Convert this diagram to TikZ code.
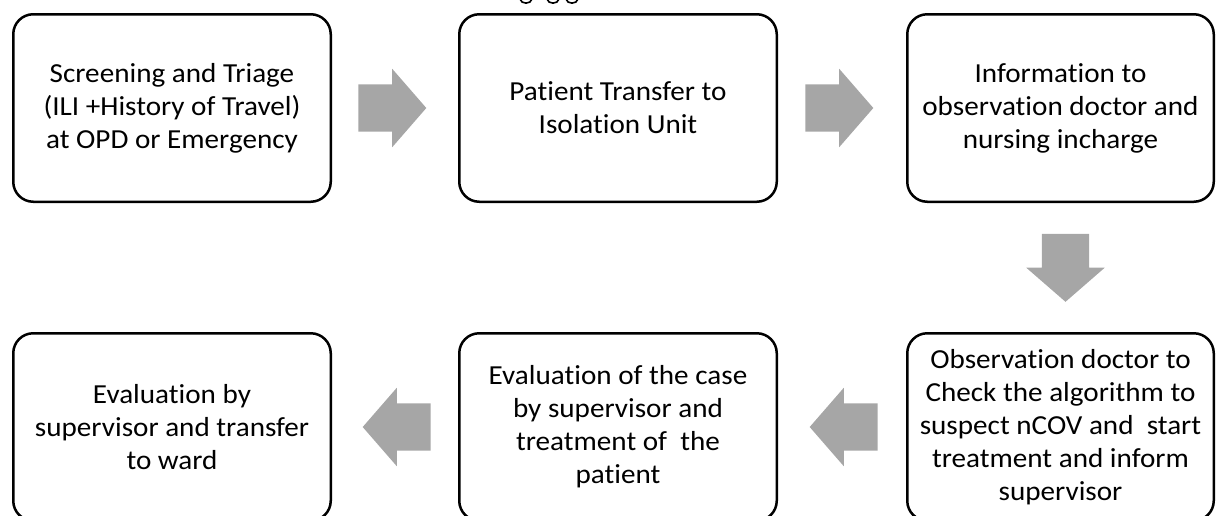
\documentclass[tikz,border=0pt]{standalone}
\usepackage{fontspec}
\setmainfont{Carlito}[RawFeature={-liga},FakeStretch=1.06]
\usetikzlibrary{shapes.arrows,calc}
\definecolor{arrowgray}{HTML}{A6A6A6}
\begin{document}
\begin{tikzpicture}[x=1pt,y=-1pt,
  stepbox/.style={draw=black,line width=2.5pt,rounded corners=20pt,
    minimum width=317.5pt,minimum height=187.5pt,align=center,inner sep=4pt,
    font=\fontsize{27.5}{33}\selectfont},
  blockarrow/.style={single arrow,fill=arrowgray,draw=none,
    minimum height=68pt,minimum width=78pt,inner xsep=0pt,inner ysep=23.5pt,
    single arrow tip angle=98,single arrow head extend=15.5pt},
  downarrow/.style={blockarrow,shape border rotate=270,inner xsep=23.5pt,inner ysep=0pt}]
\useasboundingbox (0,0) rectangle (1216,515);

% top row
\node[stepbox] (b1) at (172,108) {Screening and Triage\\(ILI +History of Travel)\\at OPD or Emergency};
\node[stepbox] (b2) at (618,108) {Patient Transfer to\\Isolation Unit};
\node[stepbox,minimum width=306.5pt] (b3) at (1060.5,108) {Information to\\observation doctor and\\nursing incharge};

% bottom row
\node[stepbox] (b4) at (172,427) {Evaluation by\\supervisor and transfer\\to ward};
\node[stepbox] (b5) at (618,427) {Evaluation of the case\\by supervisor and\\treatment of\ \ the\\patient};
\node[stepbox,minimum width=306.5pt] (b6) at (1060.5,427) {Observation doctor to\\Check the algorithm to\\suspect nCOV and\ \ start\\treatment and inform\\supervisor};

% block arrows between the steps (the shape's centre sits in its shaft, hence the offsets)
\node[blockarrow] (a1) at ($(b1.east)!0.5!(b2.west)+(-13,0)$) {};
\node[blockarrow] (a2) at ($(b2.east)!0.5!(b3.west)+(-13,0)$) {};
\node[downarrow] (a3) at ($(b3.south)!0.5!(b6.north)+(5,-10)$) {};
\node[blockarrow,shape border rotate=180] (a4) at ($(b6.west)!0.5!(b5.east)+(12,0)$) {};
\node[blockarrow,shape border rotate=180] (a5) at ($(b5.west)!0.5!(b4.east)+(12,0)$) {};

% descender strokes along the top edge
\foreach \cx in {526,553,572}
  \draw[line width=1.6pt] (\cx-6,-1) .. controls (\cx-5,4.5) and (\cx+5,4.5) .. (\cx+6,-1);
\end{tikzpicture}
\end{document}
